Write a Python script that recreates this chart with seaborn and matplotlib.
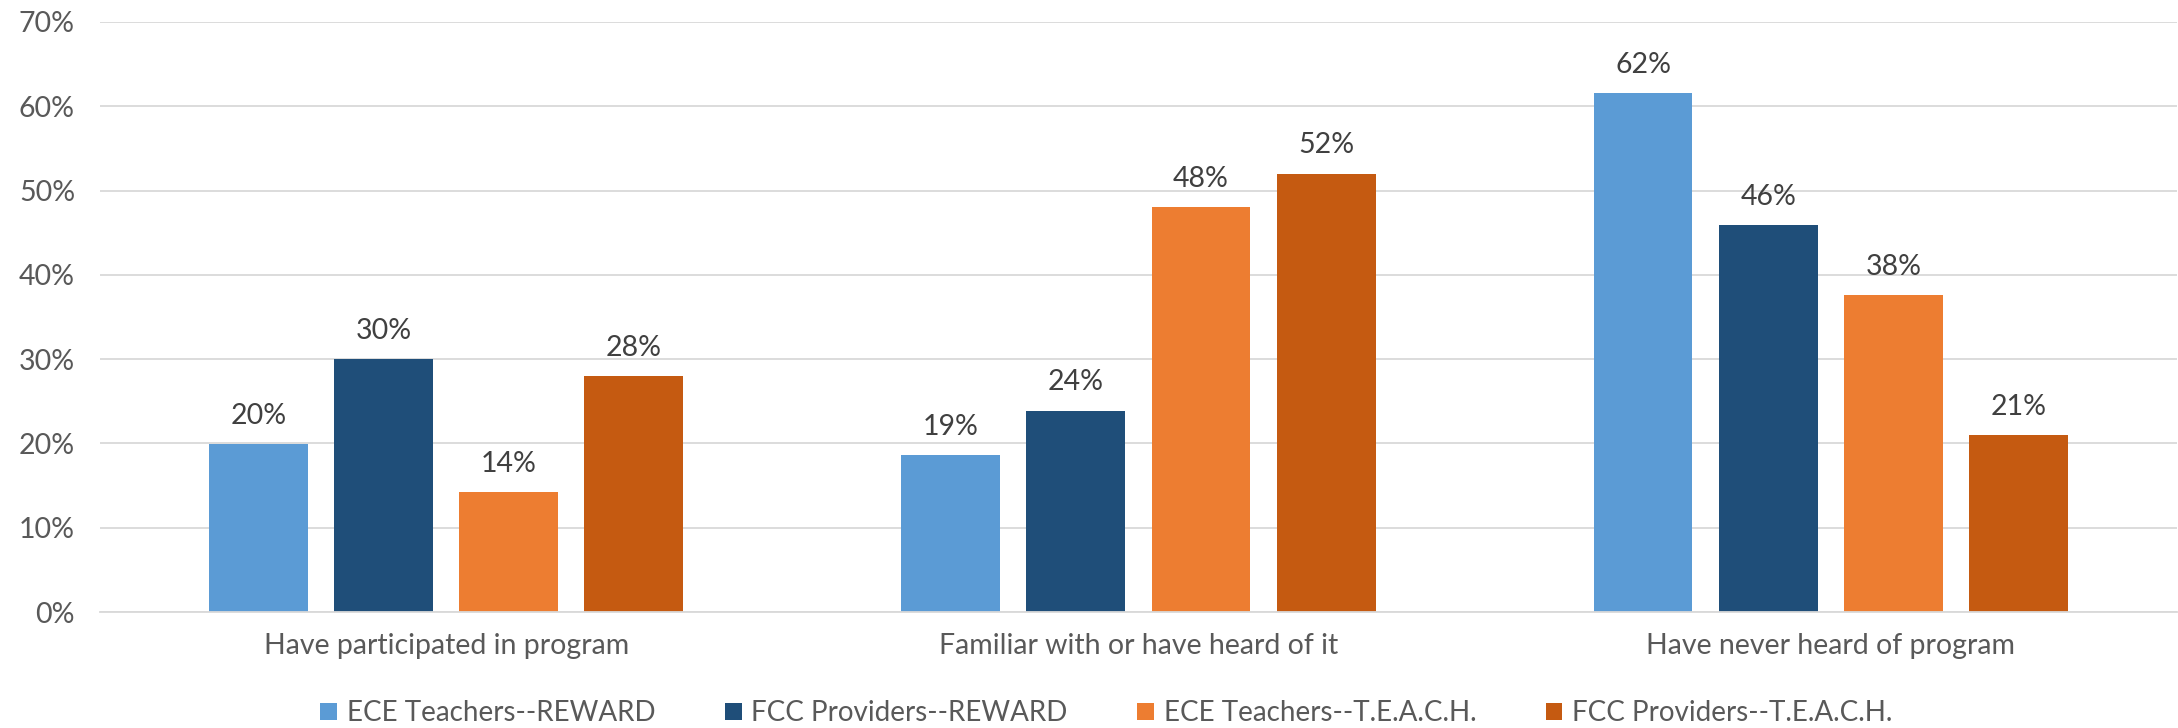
import matplotlib
matplotlib.use("Agg")
import matplotlib.pyplot as plt
import seaborn as sns
import pandas as pd

# ------------------------------------------------------------------
# Data
# ------------------------------------------------------------------

categories = [
    "Have participated in program",
    "Familiar with or have heard of it",
    "Have never heard of program",
]

series = [
    "ECE Teachers--REWARD",
    "FCC Providers--REWARD",
    "ECE Teachers--T.E.A.C.H.",
    "FCC Providers--T.E.A.C.H.",
]

ece_reward = [19.9, 18.6, 61.6]
fcc_reward = [30.0, 23.9, 45.9]
ece_teach = [14.2, 48.0, 37.6]
fcc_teach = [28.0, 52.0, 21.0]

colors = ["#5B9BD5", "#1F4E79", "#ED7D31", "#C55A11"]

yticks = [0, 10, 20, 30, 40, 50, 60, 70]

# ------------------------------------------------------------------
# Plot Style
# ------------------------------------------------------------------

sns.set_theme(style="white")
plt.rcParams["font.family"] = ["Lato", "DejaVu Sans"]

rows = []
for name, vals in zip(series, [ece_reward, fcc_reward, ece_teach, fcc_teach]):
    for cat, v in zip(categories, vals):
        rows.append({"category": cat, "series": name, "value": v})
df = pd.DataFrame(rows)

fig = plt.figure(figsize=(21.78, 7.28), dpi=100)
ax = fig.add_axes([0.0459, 0.1593, 0.9536, 0.8105])

sns.barplot(
    data=df,
    x="category",
    y="value",
    hue="series",
    order=categories,
    hue_order=series,
    palette=colors,
    saturation=1,
    width=0.723,
    gap=0.21,
    linewidth=0,
    ax=ax
)

for container in ax.containers:
    ax.bar_label(
        container,
        fmt=lambda v: f"{v:.0f}%",
        padding=11,
        fontsize=20.5,
        color="#404040"
    )

ax.set_ylim(0, 70)
ax.set_xlim(-0.5, 2.5)
ax.set_yticks(yticks)
ax.set_yticklabels([f"{t}%" for t in yticks])
ax.yaxis.grid(True, color="#D9D9D9", linewidth=1.3)
ax.set_axisbelow(True)

for side in ["top", "right", "left"]:
    ax.spines[side].set_visible(False)
ax.spines["bottom"].set_color("#D9D9D9")
ax.spines["bottom"].set_linewidth(1.3)

ax.tick_params(axis="y", length=0, pad=18, labelsize=20.5, labelcolor="#595959")
ax.tick_params(axis="x", length=0, pad=15, labelsize=20.5, labelcolor="#595959")
ax.set_xlabel("")
ax.set_ylabel("")

handles, labels = ax.get_legend_handles_labels()
ax.get_legend().remove()
fig.legend(
    handles,
    labels,
    loc="center",
    bbox_to_anchor=(0.508, 0.02),
    ncol=4,
    frameon=False,
    fontsize=20,
    labelcolor="#595959",
    handlelength=0.6,
    handleheight=0.6,
    handletextpad=0.35,
    columnspacing=2.5
)

fig.savefig("out.png", dpi=100)
